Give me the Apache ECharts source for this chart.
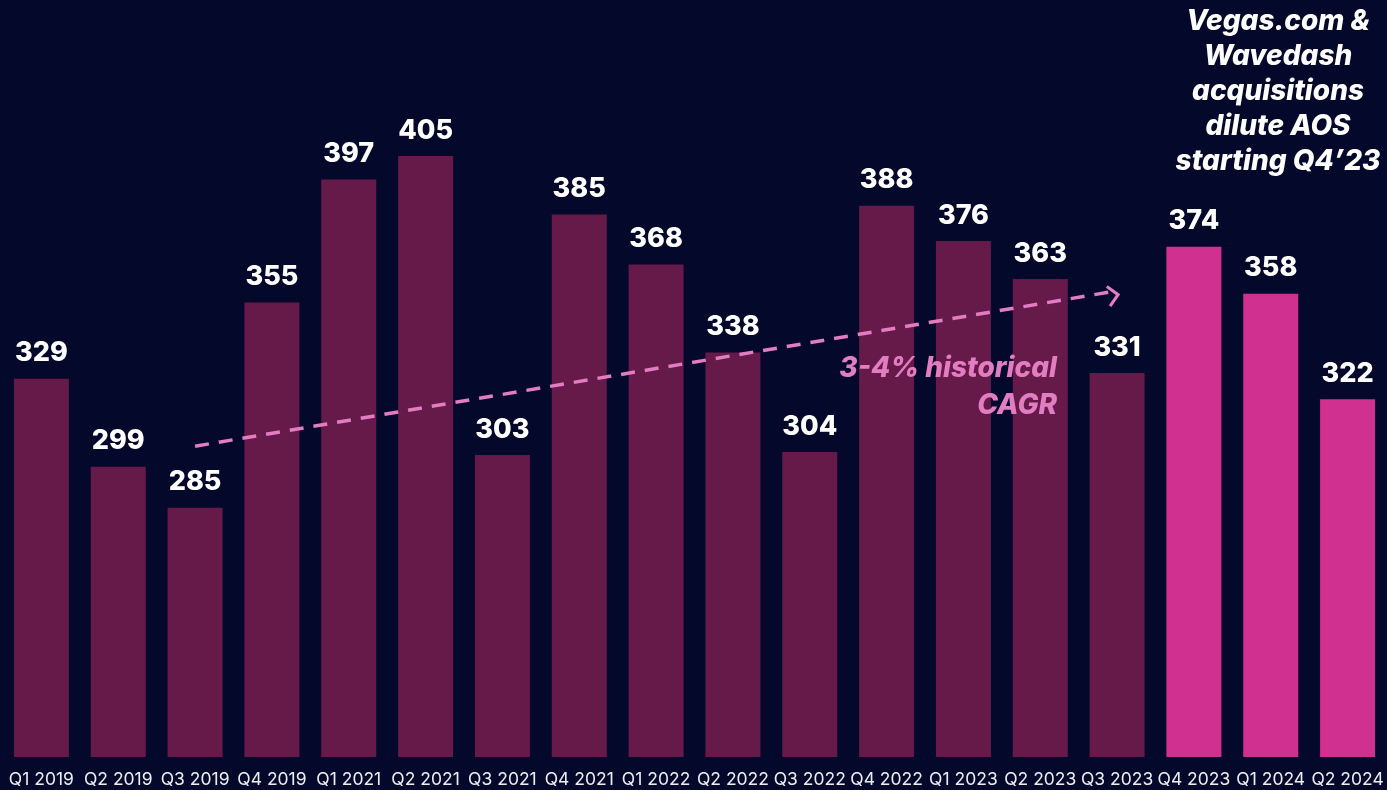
<!DOCTYPE html>
<html>
<head>
<meta charset="utf-8">
<script src="https://cdn.jsdelivr.net/npm/echarts@6/dist/echarts.min.js"></script>
<style>
html,body{margin:0;padding:0;background:#04082A;}
#chart{width:1387px;height:790px;}
</style>
</head>
<body>
<div id="chart"></div>
<script>
const categories = ['Q1 2019','Q2 2019','Q3 2019','Q4 2019','Q1 2021','Q2 2021','Q3 2021','Q4 2021','Q1 2022','Q2 2022','Q3 2022','Q4 2022','Q1 2023','Q2 2023','Q3 2023','Q4 2023','Q1 2024','Q2 2024'];
const values = [329,299,285,355,397,405,303,385,368,338,304,388,376,363,331,374,358,322];
const highlighted = ['Q4 2023','Q1 2024','Q2 2024'];
const trendStart = ['Q3 2019', 306];
const trendEnd = ['Q3 2023', 359];
const cagrText = '3-4% historical\nCAGR';
const noteText = 'Vegas.com &\nWavedash\nacquisitions\ndilute AOS\nstarting Q4\u201923';

const DARK = '#661A4A';
const BRIGHT = '#D0308F';
const PINK = '#E27DC1';
const FONT = 'Inter, "Open Sans", sans-serif';

const chart = echarts.init(document.getElementById('chart'), null, {renderer:'canvas'});
const data = values.map((v,i)=>({
  value:v,
  itemStyle:{color: highlighted.includes(categories[i]) ? BRIGHT : DARK}
}));

chart.setOption({
  backgroundColor:'#04082A',
  animation:false,
  grid:{left:3,right:1,top:24,bottom:33,containLabel:false},
  xAxis:{
    type:'category',
    data:categories,
    axisLine:{show:false},
    axisTick:{show:false},
    axisLabel:{color:'#EDEDF2',fontSize:17.5,fontFamily:FONT,margin:14,interval:0}
  },
  yAxis:{type:'value',min:200,max:450,show:false,splitLine:{show:false}},
  series:[{
    type:'bar',
    data:data,
    barWidth:55,
    label:{show:true,position:'top',distance:12,color:'#FFFFFF',fontSize:27,fontWeight:800,fontFamily:FONT},
    markLine:{
      silent:true,
      z:10,
      symbol:['none','path://M10,0 L20,10 L18,12 L10,4 L2,12 L0,10 Z'],
      symbolSize:[22,13],
      symbolOffset:[0,4],
      label:{show:false},
      lineStyle:{color:PINK,width:3.5,type:[14,10]},
      data:[[{coord:trendStart},{coord:trendEnd}]]
    }
  }],
  graphic:[
    {type:'text',x:1057,y:350,z:100,style:{text:cagrText,fill:PINK,font:'italic 800 28px '+FONT,align:'right',verticalAlign:'top',lineHeight:37}},
    {type:'text',x:1278,y:4,z:100,style:{text:noteText,fill:'#FFFFFF',font:'italic 800 28px '+FONT,align:'center',verticalAlign:'top',lineHeight:35}}
  ]
});
</script>
</body>
</html>
